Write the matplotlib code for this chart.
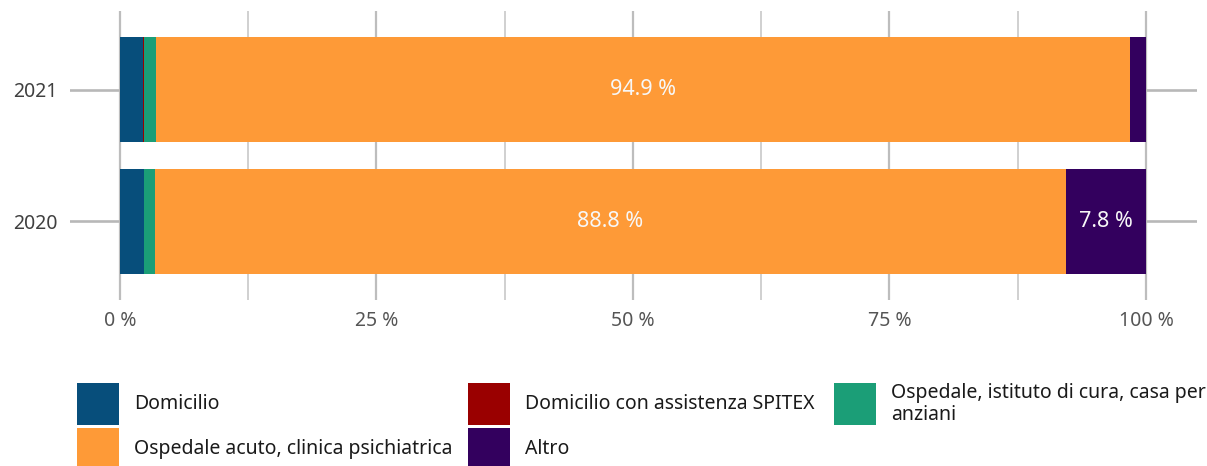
import matplotlib
matplotlib.use("Agg")
import matplotlib.pyplot as plt
from matplotlib.patches import Rectangle
import numpy as np

plt.rcParams['font.family'] = ['Noto Sans', 'DejaVu Sans']

years = ["2020", "2021"]
categories = [
    "Domicilio",
    "Domicilio con assistenza SPITEX",
    "Ospedale, istituto di cura, casa per\nanziani",
    "Ospedale acuto, clinica psichiatrica",
    "Altro",
]
colors = ["#074e7b", "#9a0000", "#1b9e77", "#fe9a37", "#33005e"]
values = {
    "Domicilio": [2.3, 2.2],
    "Domicilio con assistenza SPITEX": [0.0, 0.1],
    "Ospedale, istituto di cura, casa per\nanziani": [1.1, 1.2],
    "Ospedale acuto, clinica psichiatrica": [88.8, 94.9],
    "Altro": [7.8, 1.6],
}
x_major = [0, 25, 50, 75, 100]
x_minor = [12.5, 37.5, 62.5, 87.5]

W, H = 1207, 466
fig = plt.figure(figsize=(W / 100, H / 100), dpi=100)
ax = fig.add_axes([70 / W, (H - 300) / H, 1127 / W, 289 / H])

ypos = np.arange(len(years))
left = np.zeros(len(years))
for cat, col in zip(categories, colors):
    v = np.array(values[cat])
    bars = ax.barh(ypos, v, left=left, height=0.8, color=col, zorder=3, linewidth=0)
    for b, val in zip(bars, v):
        if val >= 5:
            ax.text(b.get_x() + b.get_width() / 2, b.get_y() + b.get_height() / 2,
                    f"{val:.1f} %", ha="center", va="center", color="#f7f7f7",
                    fontsize=15.5, zorder=4)
    left += v

ax.set_xlim(-4.87, 104.97)
ax.set_ylim(-0.595, 1.595)
ax.set_yticks(ypos)
ax.set_yticklabels(years)
ax.set_xticks(x_major)
ax.set_xticklabels([f"{t} %" for t in x_major])
ax.set_xticks(x_minor, minor=True)

for s in ax.spines.values():
    s.set_visible(False)
ax.tick_params(axis="both", which="both", length=0)
ax.tick_params(axis="y", labelsize=14, labelcolor="#404040", pad=9)
ax.tick_params(axis="x", labelsize=14, labelcolor="#555555", pad=8)

ax.grid(axis="x", which="major", color="#bdbdbd", linewidth=1.6, zorder=1)
ax.grid(axis="x", which="minor", color="#c4c4c4", linewidth=1.1, zorder=1)
ax.grid(axis="y", which="major", color="#b8b8b8", linewidth=1.9, zorder=1)

# legend (manual layout)
leg_order = [0, 1, 2, 3, 4]
leg_pos = [(77, 383), (468, 383), (834, 383), (77, 428), (468, 428)]
sq = 42
for idx, (px, py) in zip(leg_order, leg_pos):
    fig.patches.append(Rectangle((px / W, (H - py - sq) / H), sq / W, sq / H,
                                 transform=fig.transFigure, color=colors[idx],
                                 linewidth=0))
    fig.text((px + sq + 15) / W, (H - py - sq / 2) / H, categories[idx],
             ha="left", va="center", fontsize=14, color="#1a1a1a",
             linespacing=1.1)

fig.savefig("out.png", dpi=100)
